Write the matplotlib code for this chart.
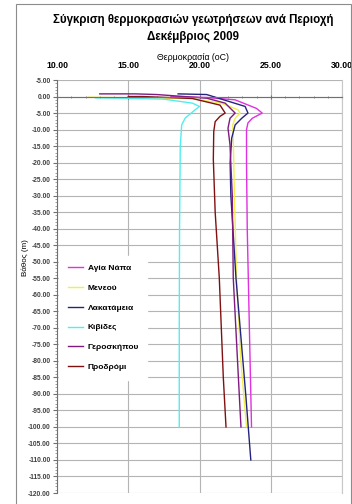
import matplotlib
matplotlib.use('Agg')
import matplotlib.pyplot as plt
from matplotlib.patches import Rectangle
from matplotlib.ticker import MultipleLocator, FuncFormatter

plt.rcParams['font.family'] = ['Liberation Sans', 'DejaVu Sans']

# Θερμοκρασίες (oC) και βάθη (m) ανά περιοχή
agia_napa_t = [18.0, 20.5, 22.5, 24.0, 24.4, 23.7, 23.4, 23.3, 23.3, 23.35, 23.45, 23.55, 23.65]
agia_napa_d = [0.0, -0.3, -1.0, -3.6, -5.0, -6.6, -8.0, -10.0, -20.0, -40.0, -60.0, -80.0, -100.0]

meneou_t = [12.2, 14.0, 19.5, 21.5, 22.7, 22.84, 22.5, 22.33, 22.37, 22.45, 22.6, 22.9, 23.3]
meneou_d = [-0.2, -0.3, -0.6, -2.0, -4.0, -5.0, -6.6, -8.6, -12.6, -30.0, -55.0, -80.0, -100.0]

lakatameia_t = [18.5, 20.5, 21.7, 23.2, 23.4, 22.96, 22.5, 22.26, 22.15, 22.2, 22.56, 23.26, 23.6]
lakatameia_d = [0.8, 0.6, -1.0, -3.0, -5.0, -6.6, -8.6, -12.6, -20.0, -30.0, -55.0, -91.0, -110.0]

kivides_t = [12.7, 14.6, 17.5, 19.5, 20.0, 19.7, 19.0, 18.75, 18.65, 18.6, 18.58, 18.58]
kivides_d = [-0.4, -0.5, -0.8, -2.0, -3.0, -4.0, -6.5, -8.6, -15.0, -40.0, -70.0, -100.0]

geroskipou_t = [13.0, 15.5, 17.0, 20.5, 21.8, 22.5, 22.14, 22.0, 22.14, 22.3, 22.37, 22.8, 22.91]
geroskipou_d = [0.8, 0.8, 0.6, -0.5, -2.0, -5.0, -6.6, -9.6, -14.6, -30.0, -55.0, -91.0, -100.0]

prodromi_t = [15.0, 16.0, 19.5, 21.44, 21.8, 21.44, 21.1, 21.0, 20.97, 21.1, 21.39, 21.67, 21.86]
prodromi_d = [0.0, 0.0, -0.6, -2.6, -5.0, -6.0, -7.6, -10.6, -19.0, -35.0, -55.0, -85.0, -100.0]

seires = [
    ('Αγία Νάπα', agia_napa_t, agia_napa_d, '#e030e0'),
    ('Μενεού', meneou_t, meneou_d, '#f2ee50'),
    ('Λακατάμεια', lakatameia_t, lakatameia_d, '#24247f'),
    ('Κιβίδες', kivides_t, kivides_d, '#50eeee'),
    ('Γεροσκήπου', geroskipou_t, geroskipou_d, '#7f1a7f'),
    ('Προδρόμι', prodromi_t, prodromi_d, '#7f1010'),
]

fig = plt.figure(figsize=(3.52, 5.04), dpi=100)
fig.patch.set_facecolor('white')

# πλαίσιο γραφήματος
fig.patches.append(Rectangle((16 / 352, -0.01), 335 / 352, 1 - 4 / 504 + 0.01,
                             transform=fig.transFigure, fill=False,
                             edgecolor='#8c8c8c', linewidth=0.8))

ax = fig.add_axes([57 / 352, 11 / 504, 285 / 352, 413 / 504])

for nom, t, d, c in seires:
    ax.plot(t, d, color=c, linewidth=1.0, label=nom)

ax.set_xlim(10, 30)
ax.set_ylim(-120, 5)

ax.xaxis.set_major_locator(MultipleLocator(5))
ax.xaxis.set_minor_locator(MultipleLocator(1))
ax.yaxis.set_major_locator(MultipleLocator(5))
ax.yaxis.set_minor_locator(MultipleLocator(1))

ax.grid(True, which='major', color='#b4b4b4', linewidth=0.8)
ax.set_axisbelow(True)

# άξονας x πάνω στο μηδέν, ετικέτες στην κορυφή
ax.spines['bottom'].set_position(('data', 0))
ax.spines['bottom'].set_color('#707070')
ax.spines['left'].set_color('#707070')
ax.spines['top'].set_visible(False)
ax.spines['right'].set_color('#c8c8c8')

ax.tick_params(axis='x', which='both', bottom=True, top=False,
               labelbottom=False, labeltop=True, direction='inout',
               color='#707070')
ax.tick_params(axis='x', which='major', length=3, pad=6, labelsize=6.3)
ax.tick_params(axis='x', which='minor', length=2)
for lb in ax.get_xticklabels():
    lb.set_fontweight('bold')
ax.xaxis.set_major_formatter(FuncFormatter(lambda v, p: f'{v:.2f}'))

ax.tick_params(axis='y', which='major', length=3, labelsize=4.8, pad=1.5,
               color='#707070', labelcolor='#404040')
ax.tick_params(axis='y', which='minor', length=1.5, color='#909090')
ax.yaxis.set_major_formatter(
    FuncFormatter(lambda v, p: '0.00' if abs(v) < 1e-9 else f'-{abs(v):.2f}'))
for lb in ax.get_yticklabels():
    lb.set_fontweight('bold')

leg = ax.legend(loc='upper left', bbox_to_anchor=(0.008, 0.575), frameon=True,
                fontsize=6, handlelength=1.8, labelspacing=1.45,
                borderaxespad=0, borderpad=1.0, handletextpad=0.6)
leg.get_frame().set_facecolor('white')
leg.get_frame().set_edgecolor('white')
leg.get_frame().set_alpha(1)
for tx in leg.get_texts():
    tx.set_fontweight('bold')

fig.text(193 / 352, 1 - 20 / 504, 'Σύγκριση θερμοκρασιών γεωτρήσεων ανά Περιοχή',
         ha='center', va='center', fontsize=8.3, fontweight='bold')
fig.text(193 / 352, 1 - 37 / 504, 'Δεκέμβριος 2009',
         ha='center', va='center', fontsize=8.3, fontweight='bold')
fig.text(193 / 352, 1 - 57 / 504, 'Θερμοκρασία (oC)',
         ha='center', va='center', fontsize=6.3)
fig.text(25 / 352, 1 - 258 / 504, 'Βάθος (m)', rotation=90,
         ha='center', va='center', fontsize=5.8)

fig.savefig('out.png', dpi=100, facecolor='white')
